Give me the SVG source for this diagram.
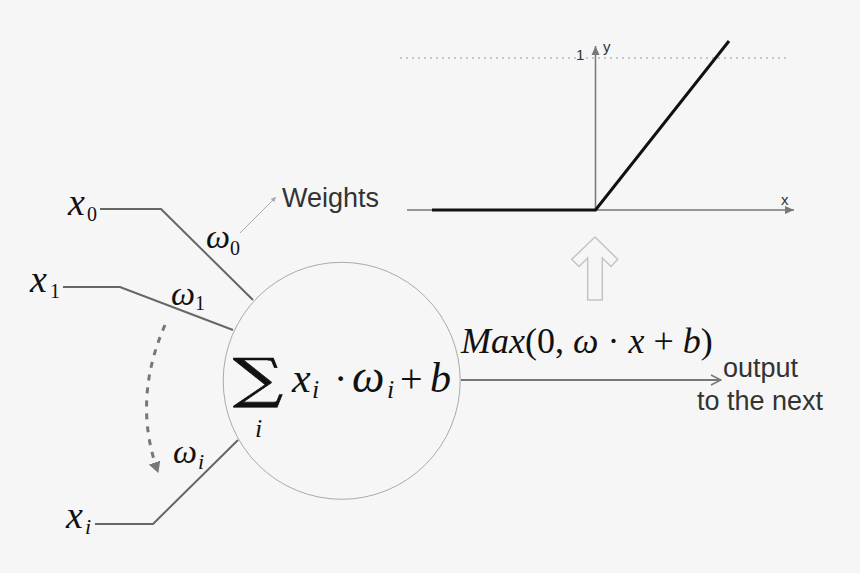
<svg xmlns="http://www.w3.org/2000/svg" width="860" height="573" viewBox="0 0 860 573">
<defs>
<style>
.m{font-family:"Liberation Serif","DejaVu Serif",serif;fill:#111}
.i{font-style:italic}
.s{font-family:"Liberation Sans",Arial,sans-serif;fill:#333}
.ax{stroke:#777;stroke-width:1.5;fill:none}
.wire{stroke:#666;stroke-width:2;fill:none}
</style>
<marker id="ah" markerWidth="10" markerHeight="10" refX="9" refY="5" orient="auto" markerUnits="userSpaceOnUse">
<path d="M0,1 L9,5 L0,9 Z" fill="#777"/>
</marker>
<marker id="chev" markerWidth="14" markerHeight="12" refX="13" refY="6" orient="auto" markerUnits="userSpaceOnUse">
<path d="M3,1 L13,6 L3,11" fill="none" stroke="#777" stroke-width="1.5"/>
</marker>
<marker id="small" markerWidth="6" markerHeight="6" refX="5" refY="3" orient="auto" markerUnits="userSpaceOnUse">
<path d="M0,0.5 L5,3 L0,5.5 Z" fill="#aaa"/>
</marker>
<marker id="dah" markerWidth="12" markerHeight="12" refX="10" refY="6" orient="auto" markerUnits="userSpaceOnUse">
<path d="M0,0 L11,6 L0,12 Z" fill="#777"/>
</marker>
</defs>
<rect width="860" height="573" fill="#f6f6f6"/>

<g id="relu-chart">
<line x1="400" y1="58" x2="787" y2="58" stroke="#999" stroke-width="1" stroke-dasharray="2,4"/>
<line class="ax" x1="407" y1="210" x2="794" y2="210" marker-end="url(#ah)"/>
<line class="ax" x1="595.5" y1="210" x2="595.5" y2="46" marker-end="url(#ah)"/>
<polyline points="432,210 595.5,210 729,41" fill="none" stroke="#111" stroke-width="3"/>
<text class="s" x="576" y="60" font-size="15" fill="#333">1</text>
<text class="s" x="603" y="52" font-size="15">y</text>
<text class="s" x="781" y="205" font-size="15">x</text>
</g>

<g id="up-arrow">
<polygon points="595,237 617.7,259.3 611,266.5 602.3,258 602.3,300 587.7,300 587.7,258 579,266.5 571.7,259.3" fill="#f6f6f6" stroke="#c4c4c4" stroke-width="1.5"/>
</g>

<g id="neuron">
<circle cx="341.7" cy="380.8" r="118.5" fill="#f6f6f6" stroke="#aaa" stroke-width="1"/>
<text font-size="54" font-family="'DejaVu Serif',serif" fill="#111" stroke="#111" stroke-width="0.6" transform="translate(233,397) scale(1.3,1)">∑</text>
<text class="m i" x="255" y="437" font-size="26">i</text>
<text class="m i" x="292" y="392" font-size="42">x</text>
<text class="m i" x="312" y="398" font-size="26">i</text>
<text class="m" x="334" y="392" font-size="40">·</text>
<text class="m i" x="352" y="392" font-size="46">ω</text>
<text class="m i" x="387" y="398" font-size="26">i</text>
<text class="m" x="400" y="392" font-size="40">+</text>
<text class="m i" x="430" y="392" font-size="42">b</text>
</g>

<g id="connectors">
<polyline class="wire" points="100,209 161,209 253,300"/>
<polyline class="wire" points="63,287 120,287 233,330"/>
<polyline class="wire" points="95,524 153,524 238,440"/>
<path d="M165,325 Q132,400 158,472" fill="none" stroke="#777" stroke-width="3" stroke-dasharray="6,7" marker-end="url(#dah)"/>
<line x1="240" y1="233" x2="276" y2="197" stroke="#aaa" stroke-width="1" marker-end="url(#small)"/>
<line x1="461" y1="380" x2="721" y2="380" stroke="#777" stroke-width="2" marker-end="url(#chev)"/>
</g>

<g id="input-x0">
<text class="m i" x="68" y="215" font-size="38">x</text>
<text class="m" x="87" y="221" font-size="20">0</text>
<text class="m i" x="206" y="248" font-size="34">ω</text>
<text class="m" x="230" y="255" font-size="20">0</text>
</g>
<g id="input-x1">
<text class="m i" x="30" y="292" font-size="38">x</text>
<text class="m" x="50" y="298" font-size="20">1</text>
<text class="m i" x="171" y="305" font-size="34">ω</text>
<text class="m" x="195" y="310" font-size="20">1</text>
</g>
<g id="input-xi">
<text class="m i" x="66" y="528" font-size="38">x</text>
<text class="m i" x="85" y="534" font-size="22">i</text>
<text class="m i" x="173" y="463" font-size="34">ω</text>
<text class="m i" x="198" y="469" font-size="22">i</text>
</g>

<g id="weights-label">
<text class="s" x="282" y="207" font-size="27">Weights</text>
</g>

<g id="activation-label">
<text class="m" x="461" y="353" font-size="36"><tspan class="i">Max</tspan>(0, <tspan class="i">ω</tspan> · <tspan class="i">x</tspan> + <tspan class="i">b</tspan>)</text>
</g>

<g id="output-label">
<text class="s" x="723" y="377" font-size="27">output</text>
<text class="s" x="697" y="410" font-size="27">to the next</text>
</g>
</svg>
